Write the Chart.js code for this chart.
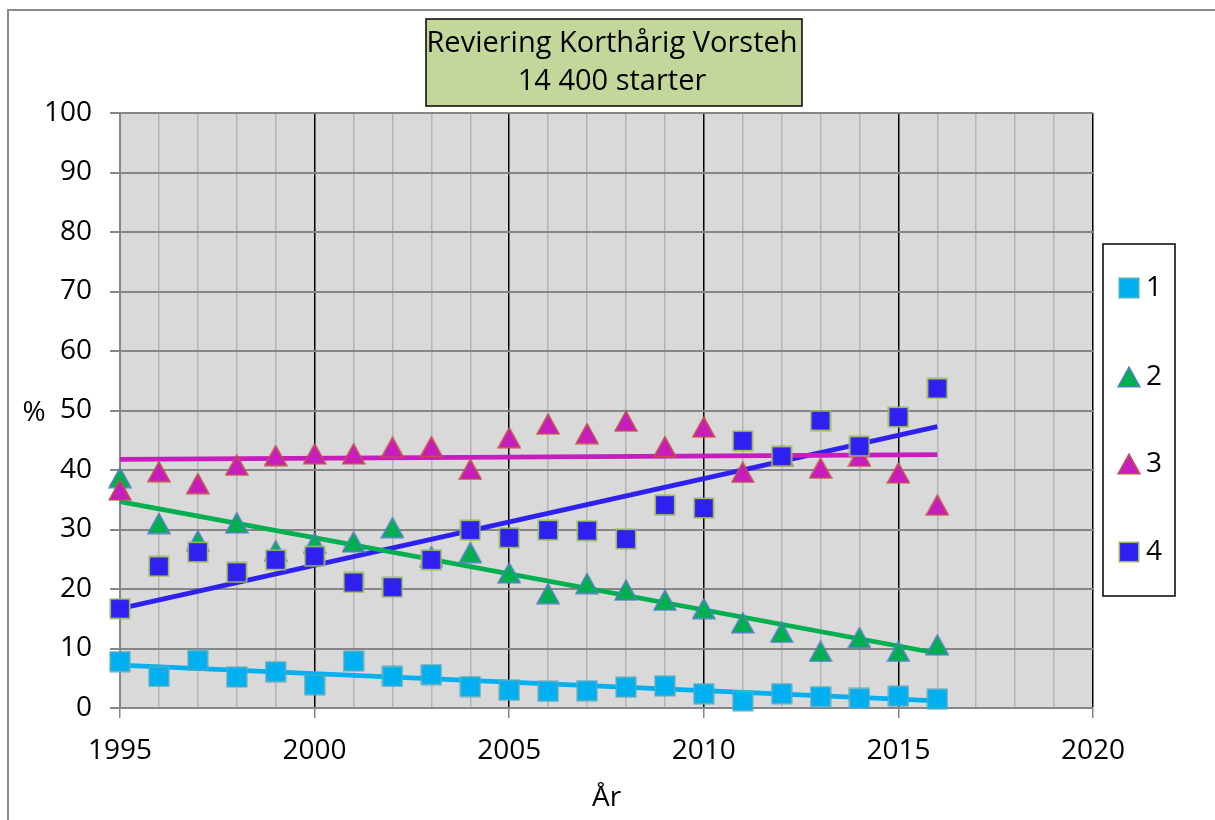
<!DOCTYPE html>
<html>
<head>
<meta charset="utf-8">
<script src="https://cdn.jsdelivr.net/npm/chart.js@4.4.0/dist/chart.umd.min.js"></script>
<style>
  html, body { margin: 0; padding: 0; background: #fff; }
  #wrap { position: relative; width: 1215px; height: 820px; overflow: hidden; }
</style>
</head>
<body>
<div id="wrap"><canvas id="chart" width="1215" height="820"></canvas></div>
<script>
// Values
const years = [1995, 1996, 1997, 1998, 1999, 2000, 2001, 2002, 2003, 2004, 2005,
  2006, 2007, 2008, 2009, 2010, 2011, 2012, 2013, 2014, 2015, 2016];
const serie1 = [7.8, 5.3, 8.0, 5.2, 6.1, 3.9, 7.9, 5.3, 5.6, 3.6, 3.0,
  2.8, 2.9, 3.5, 3.7, 2.4, 1.2, 2.4, 1.9, 1.6, 2.0, 1.5];
const serie2 = [38.7, 31.0, 28.1, 31.1, 26.4, 27.7, 27.9, 30.3, 25.4, 26.1, 22.7,
  19.2, 20.9, 19.8, 18.1, 16.7, 14.3, 12.7, 9.5, 11.8, 9.5, 10.6];
const serie3 = [36.6, 39.7, 37.7, 40.8, 42.4, 42.7, 42.7, 43.8, 43.9, 40.1, 45.4,
  47.7, 46.1, 48.2, 43.9, 47.2, 39.6, 42.4, 40.3, 42.3, 39.5, 34.1];
const serie4 = [16.7, 23.8, 26.2, 22.8, 24.9, 25.5, 21.1, 20.3, 24.9, 29.9, 28.6,
  29.9, 29.8, 28.4, 34.1, 33.6, 44.9, 42.3, 48.3, 44.0, 48.9, 53.7];

// trend lines (end points)
const trendYears = [1995, 2016];
const trend1 = [7.2, 1.2];
const trend2 = [34.7, 9.2];
const trend3 = [41.8, 42.6];
const trend4 = [16.7, 47.3];

const seriesNames = ["1", "2", "3", "4"];
const titleLines = ["Reviering Korthårig Vorsteh", "14 400 starter"];
const yTitle = "%";
const xTitle = "År";

const FONT = "'Open Sans', sans-serif";
const fontSize = 28;

// marker images, so squares and triangles sit centred like in Excel
function squareMarker(fill, stroke) {
  const c = document.createElement("canvas");
  c.width = 22; c.height = 22;
  const g = c.getContext("2d");
  g.fillStyle = fill; g.strokeStyle = stroke; g.lineWidth = 1.6;
  g.fillRect(1, 1, 20, 20);
  g.strokeRect(1.3, 1.3, 19.4, 19.4);
  return c;
}
function triangleMarker(fill, stroke) {
  const c = document.createElement("canvas");
  c.width = 24; c.height = 22;
  const g = c.getContext("2d");
  g.fillStyle = fill; g.strokeStyle = stroke; g.lineWidth = 1.6;
  g.beginPath();
  g.moveTo(12, 1.2); g.lineTo(22.8, 20.8); g.lineTo(1.2, 20.8); g.closePath();
  g.fill(); g.stroke();
  return c;
}

const markers = [
  squareMarker("#00b0f0", "#4bacc6"),
  triangleMarker("#00b050", "#4f81bd"),
  triangleMarker("#c81cbe", "#c0504d"),
  squareMarker("#2e20f0", "#9bbb59")
];
const lineColors = ["#00b0f0", "#00b050", "#c81cbe", "#2e20f0"];

function pts(xs, ys) { return xs.map((x, i) => ({ x: x, y: ys[i] })); }

const pointSets = [serie1, serie2, serie3, serie4];
const trendSets = [trend1, trend2, trend3, trend4];

const datasets = [];
pointSets.forEach((s, i) => {
  datasets.push({
    label: seriesNames[i],
    data: pts(years, s),
    showLine: false,
    pointStyle: markers[i],
    pointRadius: 11,
    order: 4 - i,
    clip: false
  });
});
trendSets.forEach((t, i) => {
  datasets.push({
    label: "trend " + seriesNames[i],
    data: pts(trendYears, t),
    showLine: true,
    borderColor: lineColors[i],
    borderWidth: 4.8,
    pointRadius: 0,
    order: 10 + i,
    clip: false
  });
});

const decor = {
  id: "decor",
  beforeDraw(chart) {
    const { ctx, chartArea: a } = chart;
    ctx.save();
    ctx.fillStyle = "#fff";
    ctx.fillRect(0, 0, chart.width, chart.height);
    ctx.strokeStyle = "#8c8c8c";
    ctx.lineWidth = 2;
    ctx.strokeRect(8, 10, chart.width + 20, chart.height + 20);
    ctx.fillStyle = "#d9d9d9";
    ctx.fillRect(a.left, a.top, a.right - a.left, a.bottom - a.top);
    ctx.restore();
  },
  afterDraw(chart) {
    const ctx = chart.ctx;
    ctx.save();
    // title box
    ctx.fillStyle = "#c4d79b";
    ctx.fillRect(426, 19, 376, 87);
    ctx.strokeStyle = "#000";
    ctx.lineWidth = 1.5;
    ctx.strokeRect(426, 19, 376, 87);
    ctx.fillStyle = "#000";
    ctx.font = (fontSize + 1) + "px " + FONT;
    ctx.textAlign = "center";
    ctx.textBaseline = "middle";
    ctx.fillText(titleLines[0], 612, 44);
    ctx.fillText(titleLines[1], 612, 82);
    // y axis title, upright like the original
    ctx.font = fontSize + "px " + FONT;
    ctx.fillText(yTitle, 34, 413);
    // legend
    ctx.fillStyle = "#fff";
    ctx.fillRect(1103, 244, 72, 352);
    ctx.strokeStyle = "#000";
    ctx.strokeRect(1103, 244, 72, 352);
    const rows = [288, 377, 464, 552];
    ctx.textAlign = "left";
    seriesNames.forEach((n, i) => {
      const m = markers[i];
      ctx.drawImage(m, 1129 - m.width / 2, rows[i] - m.height / 2);
      ctx.fillStyle = "#000";
      ctx.fillText(n, 1146, rows[i]);
    });
    ctx.restore();
  }
};

new Chart(document.getElementById("chart"), {
  type: "scatter",
  data: { datasets: datasets },
  options: {
    responsive: false,
    animation: false,
    devicePixelRatio: 1,
    layout: { padding: { top: 113, right: 122, bottom: 0, left: 0 } },
    plugins: {
      legend: { display: false },
      title: { display: false },
      tooltip: { enabled: false }
    },
    scales: {
      x: {
        type: "linear",
        min: 1995,
        max: 2020,
        afterFit(s) { s.height = 112; },
        ticks: {
          stepSize: 1,
          autoSkip: false,
          maxRotation: 0,
          padding: 16,
          color: "#000",
          font: { family: FONT, size: fontSize },
          callback: v => (v % 5 === 0 ? String(v) : "")
        },
        grid: {
          tickLength: 10,
          lineWidth: 1.5,
          color: c => {
            const v = c.tick ? c.tick.value : 0;
            if (v === 1995) return "#868686";
            return v % 5 === 0 ? "#000" : "#b4b4b4";
          },
          tickColor: c => (c.tick && c.tick.value % 5 === 0 ? "#868686" : "rgba(0,0,0,0)")
        },
        border: { color: "#868686", width: 2 },
        title: {
          display: true,
          text: xTitle,
          color: "#000",
          font: { family: FONT, size: fontSize },
          padding: { top: 0, bottom: 5 }
        }
      },
      y: {
        min: 0,
        max: 100,
        afterFit(s) { s.width = 120; },
        ticks: {
          stepSize: 10,
          padding: 18,
          color: "#000",
          font: { family: FONT, size: fontSize }
        },
        grid: { color: "#868686", lineWidth: 2, tickLength: 10, tickColor: "#868686" },
        border: { color: "#868686", width: 2 }
      }
    }
  },
  plugins: [decor]
});
</script>
</body>
</html>
